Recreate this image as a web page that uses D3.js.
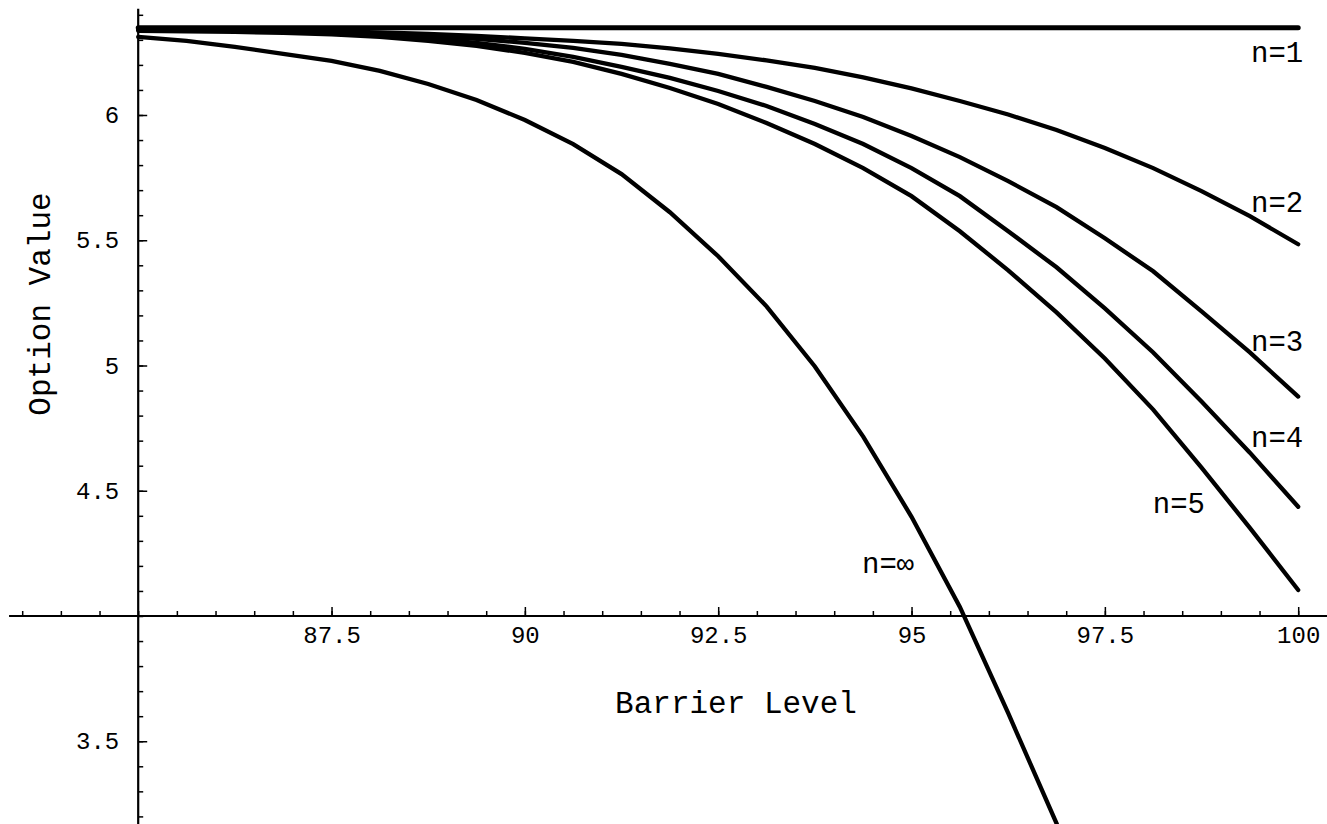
<!DOCTYPE html>
<html>
<head>
<meta charset="utf-8">
<script src="https://cdn.jsdelivr.net/npm/d3@7/dist/d3.min.js"></script>
<style>
  body { margin: 0; background: #fff; }
  text { font-family: "Liberation Mono", "Courier New", monospace; fill: #000; }
</style>
</head>
<body>
<div id="chart"></div>
<script>
const width = 1327;
const height = 824;

// barrier levels where the curves were sampled
const barrier = [85, 85.625, 86.25, 86.875, 87.5, 88.125, 88.75, 89.375, 90, 90.625,
  91.25, 91.875, 92.5, 93.125, 93.75, 94.375, 95, 95.625, 96.25, 96.875,
  97.5, 98.125, 98.75, 99.375, 100];

// option values
const n1 = [6.348, 6.348, 6.348, 6.348, 6.348, 6.348, 6.348, 6.348, 6.348, 6.348,
  6.348, 6.348, 6.348, 6.348, 6.348, 6.348, 6.348, 6.348, 6.348, 6.348,
  6.348, 6.348, 6.348, 6.348, 6.348];
const n2 = [6.344, 6.342, 6.340, 6.338, 6.334, 6.330, 6.324, 6.316, 6.306, 6.296,
  6.284, 6.266, 6.244, 6.218, 6.188, 6.150, 6.106, 6.056, 6.002, 5.940,
  5.868, 5.788, 5.696, 5.596, 5.484];
const n3 = [6.342, 6.340, 6.338, 6.334, 6.330, 6.324, 6.316, 6.304, 6.288, 6.268,
  6.240, 6.204, 6.164, 6.112, 6.056, 5.992, 5.916, 5.832, 5.736, 5.632,
  5.508, 5.376, 5.216, 5.052, 4.876];
const n4 = [6.340, 6.338, 6.336, 6.332, 6.326, 6.318, 6.306, 6.288, 6.264, 6.232,
  6.192, 6.148, 6.096, 6.036, 5.964, 5.884, 5.788, 5.676, 5.536, 5.392,
  5.228, 5.052, 4.856, 4.652, 4.436];
const n5 = [6.336, 6.334, 6.332, 6.328, 6.322, 6.312, 6.296, 6.276, 6.248, 6.212,
  6.164, 6.108, 6.044, 5.968, 5.884, 5.788, 5.676, 5.536, 5.380, 5.212,
  5.028, 4.824, 4.592, 4.352, 4.104];
// continuous monitoring, runs off the bottom of the frame
const nInf = [6.312, 6.296, 6.272, 6.244, 6.216, 6.176, 6.124, 6.060, 5.980, 5.884,
  5.764, 5.612, 5.436, 5.236, 4.996, 4.716, 4.396, 4.036, 3.612, 3.172,
  2.700, 2.200, 1.660, 1.080, 0.470];

const seriesNames = ["n=1", "n=2", "n=3", "n=4", "n=5", "n=\u221E"];
const seriesValues = [n1, n2, n3, n4, n5, nInf];

const xTickLabels = [87.5, 90, 92.5, 95, 97.5, 100];
const yTickLabels = [3.5, 4.5, 5, 5.5, 6];

const x = d3.scaleLinear().domain([85, 100]).range([138.2, 1298.2]);
const y = d3.scaleLinear().domain([4, 6]).range([616, 115]);

const svg = d3.select("#chart").append("svg")
  .attr("width", width)
  .attr("height", height);

// curves
const line = d3.line()
  .x((d, i) => x(barrier[i]))
  .y(d => y(d));

svg.append("g")
  .selectAll("path")
  .data(seriesValues)
  .join("path")
    .attr("d", line)
    .attr("fill", "none")
    .attr("stroke", "#000")
    .attr("stroke-width", (d, i) => i === 0 ? 5 : 4.3)
    .attr("stroke-linecap", "round");

// curve labels, placed in data coords
const labelSpots = [[99.39, 6.212], [99.39, 5.612], [99.39, 5.056], [99.39, 4.676], [98.12, 4.412], [94.36, 4.172]];
svg.append("g")
  .selectAll("text")
  .data(seriesNames)
  .join("text")
    .attr("x", (d, i) => x(labelSpots[i][0]))
    .attr("y", (d, i) => y(labelSpots[i][1]))
    .style("font-size", "29px")
    .text(d => d);

// x axis (crosses at 4)
const xAxisY = y(4);
const xMinor = svg.append("g").attr("transform", `translate(0,${xAxisY})`)
  .call(d3.axisBottom(x).tickValues(d3.range(83.5, 100.01, 0.5)).tickSize(-5).tickFormat(""));
const xMajor = svg.append("g").attr("transform", `translate(0,${xAxisY})`)
  .call(d3.axisBottom(x).tickValues(xTickLabels).tickSize(-9).tickPadding(10).tickFormat(d => d));
xMajor.selectAll("text").style("font-size", "24px");
[xMinor, xMajor].forEach(g => {
  g.selectAll(".domain").remove();
  g.selectAll("line").attr("stroke-width", 1.5);
});
svg.append("line")
  .attr("x1", x(83.33)).attr("x2", width)
  .attr("y1", xAxisY).attr("y2", xAxisY)
  .attr("stroke", "#000").attr("stroke-width", 2.2);

// y axis (crosses at 85)
const yAxisX = x(85);
const yMinor = svg.append("g").attr("transform", `translate(${yAxisX},0)`)
  .call(d3.axisLeft(y).tickValues(d3.range(3.2, 6.41, 0.1)).tickSize(-5).tickFormat(""));
const yMajor = svg.append("g").attr("transform", `translate(${yAxisX},0)`)
  .call(d3.axisLeft(y).tickValues(yTickLabels).tickSize(-9).tickPadding(19).tickFormat(d => d));
yMajor.selectAll("text").style("font-size", "24px");
[yMinor, yMajor].forEach(g => {
  g.selectAll(".domain").remove();
  g.selectAll("line").attr("stroke-width", 1.5);
});
svg.append("line")
  .attr("x1", yAxisX).attr("x2", yAxisX)
  .attr("y1", y(6.424)).attr("y2", height)
  .attr("stroke", "#000").attr("stroke-width", 2.2);

// axis titles
svg.append("text")
  .attr("x", 736)
  .attr("y", 713)
  .attr("text-anchor", "middle")
  .style("font-size", "31px")
  .text("Barrier Level");

svg.append("text")
  .attr("transform", "translate(50,304) rotate(-90)")
  .attr("text-anchor", "middle")
  .style("font-size", "31px")
  .text("Option Value");
</script>
</body>
</html>
